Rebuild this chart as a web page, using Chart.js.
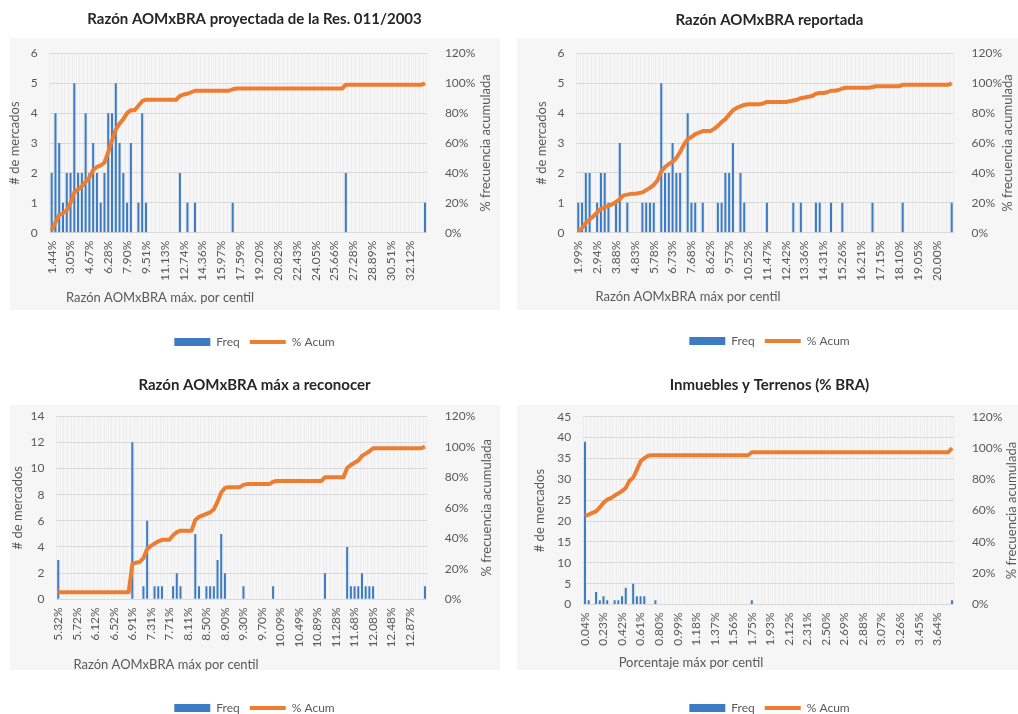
<!DOCTYPE html>
<html>
<head>
<meta charset="utf-8">
<script src="https://cdn.jsdelivr.net/npm/chart.js@4.4.0/dist/chart.umd.min.js"></script>
<style>
  body { margin: 0; width: 1018px; height: 714px; position: relative; overflow: hidden; background: #fff; font-family: Lato, sans-serif; }
  .fondo { position: absolute; background: #f6f6f6; }
  canvas { position: absolute; }
</style>
</head>
<body>
<div class="fondo" style="left:10px;top:38px;width:490px;height:272px"></div>
<div class="fondo" style="left:517px;top:38px;width:501px;height:272px"></div>
<div class="fondo" style="left:10px;top:405px;width:490px;height:265px"></div>
<div class="fondo" style="left:517px;top:405px;width:501px;height:265px"></div>
<canvas id="c1" width="509" height="358" style="left:0;top:0"></canvas>
<canvas id="c2" width="497" height="357" style="left:521px;top:0"></canvas>
<canvas id="c3" width="509" height="358" style="left:0;top:366px"></canvas>
<canvas id="c4" width="497" height="358" style="left:521px;top:366px"></canvas>
<script>
// etiquetas visibles del eje x (una cada 5 centiles)
const ticks1 = ['1.44%','3.05%','4.67%','6.28%','7.90%','9.51%','11.13%','12.74%','14.36%','15.97%','17.59%','19.20%','20.82%','22.43%','24.05%','25.66%','27.28%','28.89%','30.51%','32.12%'];
const ticks2 = ['1.99%','2.94%','3.88%','4.83%','5.78%','6.73%','7.68%','8.62%','9.57%','10.52%','11.47%','12.42%','13.36%','14.31%','15.26%','16.21%','17.15%','18.10%','19.05%','20.00%'];
const ticks3 = ['5.32%','5.72%','6.12%','6.52%','6.91%','7.31%','7.71%','8.11%','8.50%','8.90%','9.30%','9.70%','10.09%','10.49%','10.89%','11.28%','11.68%','12.08%','12.48%','12.87%'];
const ticks4 = ['0.04%','0.23%','0.42%','0.61%','0.80%','0.99%','1.18%','1.37%','1.56%','1.75%','1.93%','2.12%','2.31%','2.50%','2.69%','2.88%','3.07%','3.26%','3.45%','3.64%'];

// # de mercados por centil
const freq1 = [
  2,4,3,1,2,2,5,2,2,4,
  2,3,2,1,2,4,4,5,3,2,
  1,3,0,1,4,1,0,0,0,0,
  0,0,0,0,2,0,1,0,1,0,
  0,0,0,0,0,0,0,0,1,0,
  0,0,0,0,0,0,0,0,0,0,
  0,0,0,0,0,0,0,0,0,0,
  0,0,0,0,0,0,0,0,2,0,
  0,0,0,0,0,0,0,0,0,0,
  0,0,0,0,0,0,0,0,0,1];
const freq2 = [
  1,1,2,2,0,1,2,2,1,0,
  1,3,0,1,0,0,0,1,1,1,
  1,0,5,2,2,3,2,2,0,4,
  1,1,0,1,0,0,0,1,1,2,
  2,3,0,2,1,0,0,0,0,0,
  1,0,0,0,0,0,0,1,0,1,
  0,0,0,1,1,0,0,1,0,0,
  1,0,0,0,0,0,0,0,1,0,
  0,0,0,0,0,0,1,0,0,0,
  0,0,0,0,0,0,0,0,0,1];
const freq3 = [
  3,0,0,0,0,0,0,0,0,0,
  0,0,0,0,0,0,0,0,0,0,
  12,0,0,1,6,0,1,1,1,0,
  0,1,2,1,0,0,0,5,1,0,
  1,1,1,3,5,2,0,0,0,0,
  1,0,0,0,0,0,0,0,1,0,
  0,0,0,0,0,0,0,0,0,0,
  0,0,2,0,0,0,0,0,4,1,
  1,1,2,1,1,1,0,0,0,0,
  0,0,0,0,0,0,0,0,0,1];
const freq4 = [
  39,1,0,3,1,2,1,0,1,1,
  2,4,0,5,2,2,2,0,0,1,
  0,0,0,0,0,0,0,0,0,0,
  0,0,0,0,0,0,0,0,0,0,
  0,0,0,0,0,1,0,0,0,0,
  0,0,0,0,0,0,0,0,0,0,
  0,0,0,0,0,0,0,0,0,0,
  0,0,0,0,0,0,0,0,0,0,
  0,0,0,0,0,0,0,0,0,0,
  0,0,0,0,0,0,0,0,0,1];

// % frecuencia acumulada
const acum1 = [
  1.5,7,12,13,15,20,27,29,31,34,
  37,42,44,45,47,54,62,69,73,76,
  80,82,82,85,88,89,89,89,89,89,
  89,89,89,89,91.5,92.5,93,94,95,95,
  95,95,95,95,95,95,95,95,96,96.5,
  96.5,96.5,96.5,96.5,96.5,96.5,96.5,96.5,96.5,96.5,
  96.5,96.5,96.5,96.5,96.5,96.5,96.5,96.5,96.5,96.5,
  96.5,96.5,96.5,96.5,96.5,96.5,96.5,96.5,99,99,
  99,99,99,99,99,99,99,99,99,99,
  99,99,99,99,99,99,99,99,99,100];
const acum2 = [
  1,3,6.6,8.8,11,13.5,16,17,18,19,
  20.5,22.5,25,25.5,26,26,26.5,27,28.5,30,
  32,35,41,44,46,47.5,50,54,59,62.5,
  64,66,67,68,68,68,69.5,71.5,74,76,
  79,82,83.5,84.5,85.5,86,86,86,86,86.5,
  87.5,87.5,87.5,87.5,87.5,87.5,88,88.5,89,90,
  90.5,91,91.5,93,93.5,93.5,94,95,95,95.5,
  96.5,97,97,97,97,97,97,97,97.5,98,
  98,98,98,98,98,98,99,99,99,99,
  99,99,99,99,99,99,99,99,99,100];
const acum3 = [
  4.6,4.6,4.6,4.6,4.6,4.6,4.6,4.6,4.6,4.6,
  4.6,4.6,4.6,4.6,4.6,4.6,4.6,4.6,4.6,4.6,
  23,24,24.5,27,33,35,36.5,38,39,39,
  39,42,44,45,45,45,45,52,54,55,
  56,57,59,64,70,73,73.5,73.5,73.5,73.5,
  75,75.5,75.5,75.5,75.5,75.5,75.5,75.5,77,77.5,
  77.5,77.5,77.5,77.5,77.5,77.5,77.5,77.5,77.5,77.5,
  77.5,77.5,80,80,80,80,80,80,86,88,
  89.5,91,94,95.5,97,99,99,99,99,99,
  99,99,99,99,99,99,99,99,99,100];
const acum4 = [
  56.6,57.5,58.5,59.5,62,65,67,68,69.6,71,
  72.5,74.5,79,81,86,91.5,93.5,95,95.4,95.4,
  95.4,95.4,95.4,95.4,95.4,95.4,95.4,95.4,95.4,95.4,
  95.4,95.4,95.4,95.4,95.4,95.4,95.4,95.4,95.4,95.4,
  95.4,95.4,95.4,95.4,95.4,97.3,97.3,97.3,97.3,97.3,
  97.3,97.3,97.3,97.3,97.3,97.3,97.3,97.3,97.3,97.3,
  97.3,97.3,97.3,97.3,97.3,97.3,97.3,97.3,97.3,97.3,
  97.3,97.3,97.3,97.3,97.3,97.3,97.3,97.3,97.3,97.3,
  97.3,97.3,97.3,97.3,97.3,97.3,97.3,97.3,97.3,97.3,
  97.3,97.3,97.3,97.3,97.3,97.3,97.3,97.3,97.3,100];

const AZUL = '#3d7cc4';
const NARANJA = '#ed7d31';
const GRIS = '#595959';

//Titulos de los ejes (el derecho se lee de abajo hacia arriba, como en Excel)
const titulosEjes = {
  id: 'titulosEjes',
  afterDraw(chart, args, o) {
    const { ctx, chartArea } = chart;
    const medio = (chartArea.top + chartArea.bottom) / 2;
    ctx.save();
    ctx.fillStyle = GRIS;
    ctx.font = '13px Lato';
    ctx.textAlign = 'center';
    ctx.textBaseline = 'middle';
    [[o.izqX, '# de mercados'], [o.derX, '% frecuencia acumulada']].forEach(([x, txt]) => {
      ctx.save();
      ctx.translate(x, medio);
      ctx.rotate(-Math.PI / 2);
      ctx.fillText(txt, 0, 0);
      ctx.restore();
    });
    ctx.fillText(o.ejeX, o.ejeXx, o.ejeXy);
    ctx.restore();
  }
};

//Crea un grafico de frecuencia + acumulado
function crearGrafico(p) {
  const categorias = p.ticks.flatMap(t => [t, '', '', '', '']);
  const fuente = { family: 'Lato', size: 12 };

  return new Chart(document.getElementById(p.id), {
    data: {
      labels: categorias,
      datasets: [
        { type: 'bar', label: 'Freq', data: p.freq, yAxisID: 'y', backgroundColor: AZUL,
          barPercentage: 0.55, categoryPercentage: 1, order: 2 },
        { type: 'line', label: '% Acum', data: p.acum, yAxisID: 'y2', borderColor: NARANJA,
          backgroundColor: NARANJA, borderWidth: 4, pointRadius: 0, tension: 0,
          borderJoinStyle: 'round', order: 1 }
      ]
    },
    options: {
      responsive: false,
      animation: false,
      layout: { padding: 0 },
      plugins: {
        title: {
          display: true, text: p.titulo, color: '#262626',
          font: { family: 'Lato', size: 15, weight: 'bold' },
          padding: { top: p.tituloY - 9, bottom: p.arriba - p.tituloY - 9 }
        },
        legend: {
          position: 'bottom',
          labels: {
            usePointStyle: true, pointStyleWidth: 36, boxHeight: 8, padding: 10,
            color: GRIS, font: fuente,
            generateLabels(chart) {
              const items = Chart.defaults.plugins.legend.labels.generateLabels(chart);
              items.forEach(it => { it.pointStyle = it.datasetIndex === 0 ? 'rect' : 'line'; });
              return items;
            },
            sort: (a, b) => a.datasetIndex - b.datasetIndex
          }
        },
        tooltip: { enabled: false },
        titulosEjes: { izqX: p.izqX, derX: p.derX, ejeX: p.ejeX, ejeXx: p.ejeXx, ejeXy: p.ejeXy }
      },
      scales: {
        x: {
          ticks: { autoSkip: false, minRotation: 90, maxRotation: 90, padding: 8, color: GRIS, font: fuente },
          grid: { color: 'rgba(0,0,0,0.035)', drawTicks: false },
          border: { display: false },
          afterFit: s => { s.height = p.altoX; }
        },
        y: {
          position: 'left', min: 0, max: p.yMax,
          ticks: { stepSize: p.yPaso, padding: 12, color: GRIS, font: fuente },
          grid: { color: '#d9d9d9', drawTicks: false },
          border: { display: false },
          afterFit: s => { s.width = p.izq; }
        },
        y2: {
          position: 'right', min: 0, max: 120,
          ticks: { stepSize: 20, padding: 10, color: GRIS, font: fuente, callback: v => v + '%' },
          grid: { display: false },
          border: { display: false },
          afterFit: s => { s.width = p.der; }
        }
      }
    },
    plugins: [titulosEjes]
  });
}

crearGrafico({ id: 'c1', titulo: 'Razón AOMxBRA proyectada de la Res. 011/2003', ticks: ticks1, freq: freq1, acum: acum1,
  yMax: 6, yPaso: 1, tituloY: 19, arriba: 53.4, altoX: 93.3, izq: 49.8, der: 82.1,
  izqX: 15, derX: 486, ejeX: 'Razón AOMxBRA máx. por centil', ejeXx: 160, ejeXy: 298 });

crearGrafico({ id: 'c2', titulo: 'Razón AOMxBRA reportada', ticks: ticks2, freq: freq2, acum: acum2,
  yMax: 6, yPaso: 1, tituloY: 20, arriba: 53.4, altoX: 92.3, izq: 55.4, der: 64.4,
  izqX: 21, derX: 487, ejeX: 'Razón AOMxBRA máx por centil', ejeXx: 167, ejeXy: 297 });

crearGrafico({ id: 'c3', titulo: 'Razón AOMxBRA máx a reconocer', ticks: ticks3, freq: freq3, acum: acum3,
  yMax: 14, yPaso: 2, tituloY: 19, arriba: 50.2, altoX: 92.7, izq: 56.4, der: 82.2,
  izqX: 18, derX: 487, ejeX: 'Razón AOMxBRA máx por centil', ejeXx: 166, ejeXy: 299 });

crearGrafico({ id: 'c4', titulo: 'Inmuebles y Terrenos (% BRA)', ticks: ticks4, freq: freq4, acum: acum4,
  yMax: 45, yPaso: 5, tituloY: 19.5, arriba: 50.7, altoX: 87.5, izq: 62.1, der: 64.1,
  izqX: 19, derX: 491, ejeX: 'Porcentaje máx por centil', ejeXx: 170, ejeXy: 297 });
</script>
</body>
</html>
